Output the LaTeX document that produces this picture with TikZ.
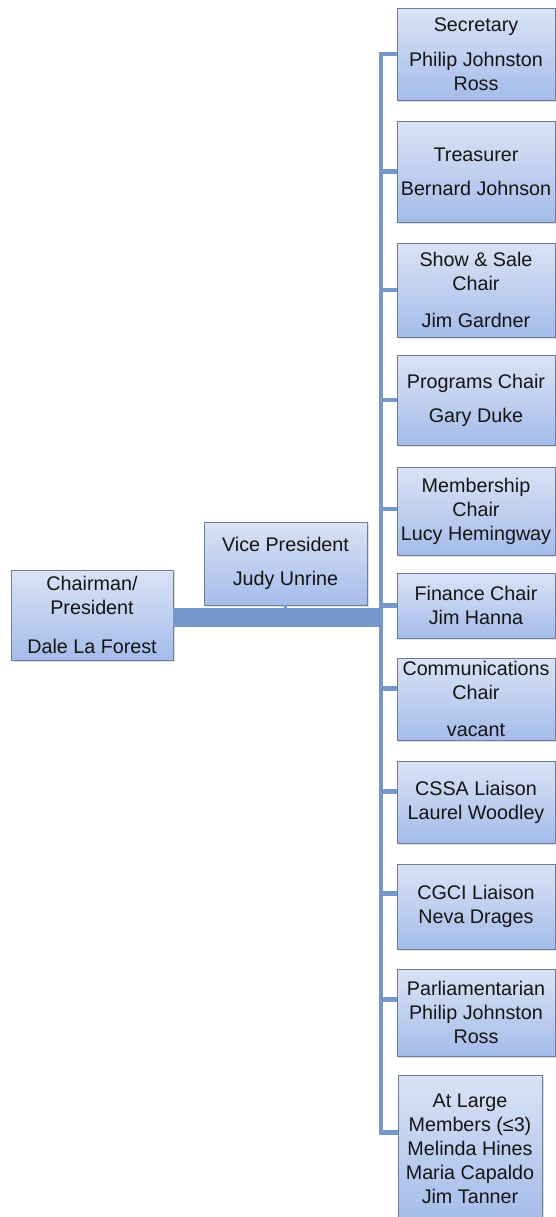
\documentclass[tikz,border=0pt]{standalone}
\usepackage{fontspec}
\setmainfont{Liberation Sans}
\usetikzlibrary{shadows}
\definecolor{boxtop}{HTML}{DAE3F5}
\definecolor{boxbot}{HTML}{A4BCEA}
\definecolor{boxline}{HTML}{6E7D90}
\definecolor{linkblue}{HTML}{7597C9}
\tikzset{
	post/.style={draw=boxline, line width=0.6pt, top color=boxtop, bottom color=boxbot,
		align=center, inner sep=1pt, text=black!92,
		font=\fontsize{14.8pt}{18pt}\selectfont,
		drop shadow={opacity=0.25, shadow xshift=1.2pt, shadow yshift=-1.2pt}},
	link/.style={draw=linkblue, line width=3.6pt},
	bar/.style={draw=linkblue, line width=14pt}
}
\begin{document}
\begin{tikzpicture}[x=0.75pt,y=-0.75pt]
	\useasboundingbox (0,0) rectangle (556,1217);
	% left side
	\coordinate (spine) at (381,617.5);
	\node[post, minimum width=121.5pt, minimum height=67.5pt] (chair) at (92,615) {Chairman/\\President\\[11pt]Dale La Forest};
	\node[post, minimum width=122.25pt, minimum height=62.25pt] (vp) at (285.5,563.5) {Vice President\\[8pt]Judy Unrine};
	\draw[link, line width=2pt] (vp.south) -- (vp.south |- spine);
	\draw[bar] (chair.east |- spine) -- (spine);
	% right column
	\node[post, minimum width=118.5pt, minimum height=69pt] (sec) at (476,54) {Secretary\\[8pt]Philip Johnston\\Ross};
	\node[post, minimum width=118.5pt, minimum height=75.75pt] (treas) at (476,171.5) {Treasurer\\[7.5pt]Bernard Johnson};
	\node[post, minimum width=118.5pt, minimum height=70.5pt] (show) at (476,290) {Show \& Sale\\Chair\\[10pt]Jim Gardner};
	\node[post, minimum width=118.5pt, minimum height=67.5pt] (prog) at (476,400) {Programs Chair\\[7.5pt]Gary Duke};
	\node[post, minimum width=118.5pt, minimum height=66pt] (memb) at (476,511) {Membership\\Chair\\Lucy Hemingway};
	\node[post, minimum width=118.5pt, minimum height=48.75pt] (fin) at (476,605.5) {Finance Chair\\Jim Hanna};
	\node[post, minimum width=118.5pt, minimum height=61.5pt] (comm) at (476,699) {Communications\\Chair\\[10pt]vacant};
	\node[post, minimum width=118.5pt, minimum height=61.5pt] (cssa) at (476,802) {CSSA Liaison\\Laurel Woodley};
	\node[post, minimum width=118.5pt, minimum height=63.75pt] (cgci) at (476,906.5) {CGCI Liaison\\Neva Drages};
	\node[post, minimum width=118.5pt, minimum height=65.25pt] (parl) at (476,1012.5) {Parliamentarian\\Philip Johnston\\Ross};
	\node[post, minimum width=108pt, minimum height=110.25pt] (large) at (470,1148.5) {At Large\\Members (≤3)\\Melinda Hines\\Maria Capaldo\\Jim Tanner};
	% connectors
	\draw[link] (sec.west) -- (sec.west -| spine) |- ([yshift=12pt]large.west);
	\draw[link] (treas.west) -- (treas.west -| spine);
	\draw[link] (show.west) -- (show.west -| spine);
	\draw[link] (prog.west) -- (prog.west -| spine);
	\draw[link] ([yshift=1.5pt]memb.west) -- ([yshift=1.5pt]memb.west -| spine);
	\draw[link] (fin.west) -- (fin.west -| spine);
	\draw[link] ([yshift=8pt]comm.west) -- ([yshift=8pt]comm.west -| spine);
	\draw[link] ([yshift=8pt]cssa.west) -- ([yshift=8pt]cssa.west -| spine);
	\draw[link] ([yshift=10pt]cgci.west) -- ([yshift=10pt]cgci.west -| spine);
	\draw[link] ([yshift=10pt]parl.west) -- ([yshift=10pt]parl.west -| spine);
\end{tikzpicture}
\end{document}
